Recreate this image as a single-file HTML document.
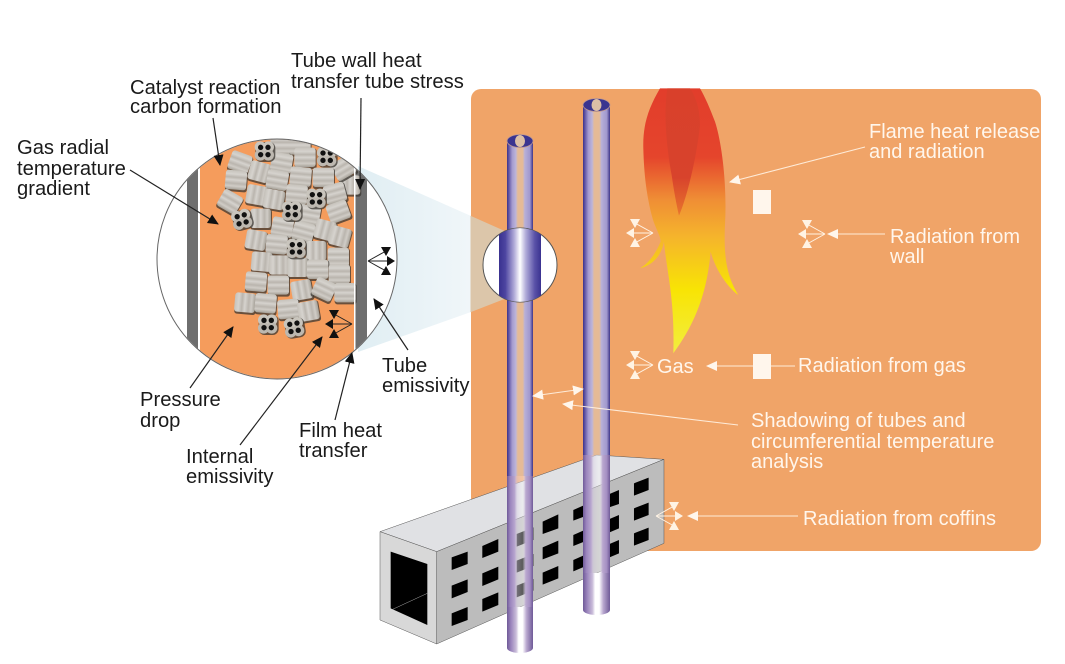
<!DOCTYPE html>
<html><head><meta charset="utf-8"><style>
html,body{margin:0;padding:0;background:#fff;width:1065px;height:664px;overflow:hidden}
svg{display:block}
text{font-family:"Liberation Sans",sans-serif;font-size:20.2px}
.b text{fill:#1a1a1a}
.w text{fill:#fff6ec;font-size:20px}
</style></head><body>
<svg width="1065" height="664" viewBox="0 0 1065 664" xmlns="http://www.w3.org/2000/svg">
<defs>
<clipPath id="cc"><circle cx="277" cy="259" r="119.5"/></clipPath>
<linearGradient id="cone" gradientUnits="userSpaceOnUse" x1="358" x2="507" y1="0" y2="0"><stop offset="0" stop-color="#e0eef3"/><stop offset=".75" stop-color="#f0f6f9"/><stop offset=".76" stop-color="#dcc6aa"/><stop offset="1" stop-color="#dcc6aa"/></linearGradient>
<linearGradient id="fl" x1="0" x2="0" y1="0" y2="1"><stop offset="0" stop-color="#e23d2b"/><stop offset=".26" stop-color="#e5452c"/><stop offset=".42" stop-color="#ef8e35"/><stop offset=".56" stop-color="#f5b42c"/><stop offset=".76" stop-color="#f8e404"/><stop offset="1" stop-color="#f2ee40"/></linearGradient>
<linearGradient id="fi" x1="0" x2="0" y1="0" y2="1"><stop offset="0" stop-color="#d9402b"/><stop offset=".7" stop-color="#d8432c"/><stop offset="1" stop-color="#e8762c"/></linearGradient>
<linearGradient id="tu" x1="0" x2="1" y1="0" y2="0"><stop offset="0" stop-color="#3d3488"/><stop offset=".06" stop-color="#5a4fa0"/><stop offset=".2" stop-color="#a49bcf"/><stop offset=".34" stop-color="#bcb4da"/><stop offset=".42" stop-color="#e0c4aa" stop-opacity=".7"/><stop offset=".6" stop-color="#e0c4aa" stop-opacity=".7"/><stop offset=".68" stop-color="#b8b0d8"/><stop offset=".88" stop-color="#a098ce"/><stop offset="1" stop-color="#3d3488"/></linearGradient>
<linearGradient id="tl" x1="0" x2="1" y1="0" y2="0"><stop offset="0" stop-color="#6f5a98"/><stop offset=".12" stop-color="#9a84bc"/><stop offset=".3" stop-color="#b8a6cf"/><stop offset=".4" stop-color="#e0d8ea" stop-opacity=".5"/><stop offset=".6" stop-color="#fff" stop-opacity=".35"/><stop offset=".72" stop-color="#bba9d0"/><stop offset=".88" stop-color="#a48ec2"/><stop offset="1" stop-color="#6f5a98"/></linearGradient>
<linearGradient id="tb" x1="0" x2="1" y1="0" y2="0"><stop offset="0" stop-color="#6f5a98"/><stop offset=".15" stop-color="#9a84bc"/><stop offset=".35" stop-color="#c9bcd9"/><stop offset=".45" stop-color="#fff"/><stop offset=".6" stop-color="#fff"/><stop offset=".75" stop-color="#b9a8cf"/><stop offset="1" stop-color="#6f5a98"/></linearGradient>
<linearGradient id="bu" x1="0" x2="1" y1="0" y2="0"><stop offset="0" stop-color="#3a3290"/><stop offset=".15" stop-color="#4c44a0"/><stop offset=".36" stop-color="#b0aad8"/><stop offset=".5" stop-color="#fff"/><stop offset=".64" stop-color="#b0aad8"/><stop offset=".85" stop-color="#5a52a8"/><stop offset="1" stop-color="#3a3290"/></linearGradient>
<linearGradient id="ph" x1="0" x2="0" y1="0" y2="1"><stop offset="0" stop-color="#c6c2bb"/><stop offset=".2" stop-color="#d6d3ce"/><stop offset=".36" stop-color="#bab5ae"/><stop offset=".5" stop-color="#d6d3ce"/><stop offset=".68" stop-color="#bab5ae"/><stop offset=".82" stop-color="#d0ccc6"/><stop offset="1" stop-color="#a5a097"/></linearGradient>
<linearGradient id="pv" x1="0" x2="1" y1="0" y2="0"><stop offset="0" stop-color="#c6c2bb"/><stop offset=".2" stop-color="#d6d3ce"/><stop offset=".36" stop-color="#bab5ae"/><stop offset=".5" stop-color="#d6d3ce"/><stop offset=".68" stop-color="#bab5ae"/><stop offset=".82" stop-color="#d0ccc6"/><stop offset="1" stop-color="#a5a097"/></linearGradient>
<g id="p"><rect x="-31" y="-27" width="66" height="62" rx="8" fill="#3a3530" opacity=".75"/><rect x="-32" y="-29" width="64" height="58" rx="9" fill="url(#ph)"/></g>
<g id="q"><rect x="-30" y="-27" width="64" height="62" rx="8" fill="#3a3530" opacity=".75"/><rect x="-31" y="-29" width="62" height="58" rx="9" fill="url(#pv)"/></g>
<g id="h"><rect x="-27" y="-27" width="60" height="60" rx="18" fill="#3a3530" opacity=".75"/><circle cx="-12" cy="-12" r="17" fill="#c9c5bd"/><circle cx="12" cy="-12" r="17" fill="#c9c5bd"/><circle cx="-12" cy="12" r="17" fill="#bdb8b0"/><circle cx="12" cy="12" r="17" fill="#bdb8b0"/><circle cx="-11" cy="-11" r="8" fill="#111"/><circle cx="11" cy="-11" r="8" fill="#111"/><circle cx="-11" cy="11" r="8" fill="#111"/><circle cx="11" cy="11" r="8" fill="#111"/></g>
<marker id="ab" markerWidth="12" markerHeight="10" refX="10" refY="5" orient="auto" markerUnits="userSpaceOnUse"><path d="M0 0L11 5L0 10z" fill="#111"/></marker>
<marker id="aw" markerWidth="12" markerHeight="12" refX="10" refY="6" orient="auto" markerUnits="userSpaceOnUse"><path d="M0 1L11 6L0 11z" fill="#fff6ec"/></marker>
<marker id="aw0" markerWidth="12" markerHeight="12" refX="1" refY="6" orient="auto" markerUnits="userSpaceOnUse"><path d="M11 1L0 6L11 11z" fill="#fff6ec"/></marker>
<g id="tri"><path d="M0 0L-18-10M0 0L-25 0M0 0L-18 10" stroke-width="1" fill="none"/><path d="M-23-14L-13-14L-18-5ZM-18 5L-23 14L-13 14ZM-27 0L-19-5L-19 5Z" stroke="none"/></g>
</defs>

<rect x="471" y="89" width="570" height="462" rx="10" fill="#f0a468"/>
<polygon points="358,166 471,216 507,232 507,298 471,312 358,352" fill="url(#cone)"/>

<!-- flame -->
<g transform="translate(470,85) scale(.3333)">
<path d="M570 10C535 70 518 120 520 190C522 270 530 330 545 390C555 430 572 450 572 470C555 510 535 535 510 550C550 540 575 510 582 470C590 560 615 640 610 805C665 730 710 640 722 500C735 550 770 605 805 630C775 580 760 530 765 420C772 300 755 170 735 110C720 70 705 35 690 10Z" fill="url(#fl)"/>
<path d="M592 10C580 90 590 190 605 270C612 320 620 360 627 392C650 340 680 220 690 120C690 70 675 30 660 10Z" fill="url(#fi)"/>
</g>

<!-- box -->
<g transform="translate(370,440) scale(.3333)" stroke="#555" stroke-width="1.5">
<polygon points="30,275 680,45 882,58 200,335" fill="#e0e1e4"/>
<polygon points="200,335 882,58 882,310 200,612" fill="#bcbcbc"/>
<polygon points="30,275 200,335 200,612 30,540" fill="#d8d8d8"/>
<polygon points="62,335 172,372 172,555 62,505" fill="#000" stroke="none"/>
<path d="M68 508L172 460" stroke="#aaa" fill="none"/>
<g fill="#000" stroke="none">
<polygon points="245,352 293,335 293,372 245,390"/><polygon points="245,437 293,418 293,456 245,475"/><polygon points="245,520 293,501 293,540 245,558"/>
<polygon points="337,318 385,297 385,335 337,354"/><polygon points="337,400 385,380 385,418 337,438"/><polygon points="337,477 385,457 385,495 337,515"/>
<polygon points="440,282 490,262 490,300 440,320"/><polygon points="440,362 490,342 490,378 440,398"/><polygon points="440,437 490,417 490,452 440,472"/>
<polygon points="518,245 565,223 565,265 518,282"/><polygon points="518,322 565,302 565,340 518,358"/><polygon points="518,398 565,378 565,415 518,434"/>
<polygon points="610,210 655,190 655,225 610,242"/><polygon points="610,285 655,265 655,300 610,318"/><polygon points="610,360 655,340 655,375 610,394"/>
<polygon points="700,170 747,150 747,192 700,208"/><polygon points="700,245 747,225 747,265 700,285"/><polygon points="700,320 747,300 747,340 700,360"/>
<polygon points="792,130 836,113 836,150 792,167"/><polygon points="792,205 836,188 836,225 792,242"/><polygon points="792,280 836,263 836,300 792,317"/>
</g>
</g>

<!-- tube 2 -->
<rect x="583" y="105" width="27" height="350" fill="url(#tu)"/>
<rect x="583" y="455" width="27" height="118" fill="url(#tl)"/>
<rect x="583" y="573" width="27" height="37" fill="url(#tb)"/>
<ellipse cx="596.5" cy="610" rx="13.5" ry="5" fill="url(#tb)"/>
<ellipse cx="596.500" cy="105" rx="13.5" ry="6.500" fill="#3a3490" stroke="#c09a90" stroke-width=".8"/>
<ellipse cx="596.500" cy="105" rx="5" ry="6" fill="#dcbfa6"/>

<!-- tube 1 -->
<rect x="507" y="141" width="26" height="335" fill="url(#tu)"/>
<rect x="507" y="476" width="26" height="131" fill="url(#tl)"/>
<rect x="507" y="607" width="26" height="41" fill="url(#tb)"/>
<ellipse cx="520" cy="648" rx="13" ry="5" fill="url(#tb)"/>
<ellipse cx="520" cy="141" rx="13" ry="6.500" fill="#3a3490" stroke="#c09a90" stroke-width=".8"/>
<ellipse cx="520" cy="141" rx="5" ry="6" fill="#dcbfa6"/>

<!-- bulge -->
<circle cx="520" cy="265" r="37" fill="#fff" stroke="#555" stroke-width="1"/>
<path d="M499 234.600A37 37 0 0 1 541 234.600V295.400A37 37 0 0 1 499 295.400Z" fill="url(#bu)"/>

<!-- big circle -->
<circle cx="277" cy="259" r="120" fill="#fff"/>
<g clip-path="url(#cc)">
<rect x="187" y="130" width="11" height="260" fill="#6e6e6e"/>
<rect x="200" y="130" width="154" height="260" fill="#f59c5c"/>
<rect x="355" y="130" width="12" height="260" fill="#6e6e6e"/>
<g transform="translate(150,130) scale(.3333)">
<use href="#p" transform="translate(393,45)"/><use href="#p" transform="translate(450,45)"/><use href="#q" transform="translate(600,165)"/>
<use href="#p" transform="translate(270,97) rotate(20)"/><use href="#p" transform="translate(258,150) rotate(5)"/><use href="#q" transform="translate(328,125) rotate(15)"/><use href="#p" transform="translate(395,98) rotate(10)"/><use href="#p" transform="translate(465,82)"/><use href="#p" transform="translate(580,115) rotate(-30)"/><use href="#p" transform="translate(520,142)"/><use href="#p" transform="translate(452,140) rotate(5)"/><use href="#p" transform="translate(382,150) rotate(10)"/><use href="#q" transform="translate(320,195) rotate(10)"/><use href="#q" transform="translate(372,208) rotate(10)"/><use href="#p" transform="translate(440,193) rotate(5)"/><use href="#p" transform="translate(240,215) rotate(30)"/><use href="#p" transform="translate(555,190) rotate(-15)"/><use href="#p" transform="translate(565,245) rotate(-20)"/><use href="#q" transform="translate(332,265)"/><use href="#p" transform="translate(478,255) rotate(10)"/><use href="#p" transform="translate(397,292) rotate(10)"/><use href="#p" transform="translate(460,305) rotate(15)"/><use href="#q" transform="translate(525,300) rotate(15)"/><use href="#q" transform="translate(570,320) rotate(15)"/><use href="#q" transform="translate(318,330) rotate(10)"/><use href="#p" transform="translate(380,343) rotate(5)"/><use href="#q" transform="translate(498,362)"/><use href="#p" transform="translate(565,382)"/><use href="#q" transform="translate(335,395) rotate(5)"/><use href="#q" transform="translate(388,405)"/><use href="#q" transform="translate(443,412)"/><use href="#p" transform="translate(503,418)"/><use href="#p" transform="translate(568,432)"/><use href="#p" transform="translate(318,455) rotate(5)"/><use href="#p" transform="translate(385,465)"/><use href="#q" transform="translate(455,480) rotate(-10)"/><use href="#p" transform="translate(522,478) rotate(25)"/><use href="#p" transform="translate(585,488)"/><use href="#q" transform="translate(285,518) rotate(5)"/><use href="#p" transform="translate(347,520) rotate(5)"/><use href="#p" transform="translate(415,537) rotate(-5)"/><use href="#q" transform="translate(475,543) rotate(-10)"/>
<use href="#h" transform="translate(343,63)"/><use href="#h" transform="translate(530,80)"/><use href="#h" transform="translate(498,205)"/><use href="#h" transform="translate(425,243)"/><use href="#h" transform="translate(275,268) rotate(-15)"/><use href="#h" transform="translate(438,355)"/><use href="#h" transform="translate(353,582)"/><use href="#h" transform="translate(432,592) rotate(-10)"/>
</g>
<rect x="198" y="130" width="2" height="260" fill="#fff"/>
<rect x="354" y="130" width="1.500" height="260" fill="#fff"/>
</g>
<circle cx="277" cy="259" r="120" fill="none" stroke="#666" stroke-width="1"/>

<!-- black arrows -->
<g stroke="#222" stroke-width="1.200" fill="none">
<path d="M213 118L220 165" marker-end="url(#ab)"/>
<path d="M361 98L360 189" marker-end="url(#ab)"/>
<path d="M130 170L218 224" marker-end="url(#ab)"/>
<path d="M190 388L233 327" marker-end="url(#ab)"/>
<path d="M240 445L322 337" marker-end="url(#ab)"/>
<path d="M335 420L352 353" marker-end="url(#ab)"/>
<path d="M408 350L374 299" marker-end="url(#ab)"/>
</g>
<use href="#tri" transform="translate(368,261) scale(-1,1)" fill="#111" stroke="#222"/>
<use href="#tri" transform="translate(352,324)" fill="#111" stroke="#222"/>

<!-- white arrows -->
<g stroke="#fff3e4" stroke-width="1.100" fill="none" stroke-opacity=".9">
<path d="M865 147L730 182" marker-end="url(#aw)"/>
<path d="M885 234L828 234" marker-end="url(#aw)"/>
<path d="M795 366L707 366" marker-end="url(#aw)"/>
<path d="M533 396L583 389" marker-start="url(#aw0)" marker-end="url(#aw)"/>
<path d="M738 425L563 404" marker-end="url(#aw)"/>
<path d="M798 516L688 516" marker-end="url(#aw)"/>
</g>
<rect x="753" y="190" width="18" height="24" fill="#fff6ec"/>
<rect x="753" y="354" width="18" height="25" fill="#fff6ec"/>
<use href="#tri" transform="translate(653,233)" fill="#fff3e4" stroke="#fff3e4"/>
<use href="#tri" transform="translate(653,365)" fill="#fff3e4" stroke="#fff3e4"/>
<use href="#tri" transform="translate(825,234)" fill="#fff3e4" stroke="#fff3e4"/>
<use href="#tri" transform="translate(656,516) scale(-1,1)" fill="#fff3e4" stroke="#fff3e4"/>

<!-- black text -->
<g class="b">
<text x="291" y="67">Tube wall heat</text>
<text x="291" y="88">transfer tube stress</text>
<text x="130" y="94">Catalyst reaction</text>
<text x="130" y="113">carbon formation</text>
<text x="17" y="154">Gas radial</text>
<text x="17" y="175">temperature</text>
<text x="17" y="195">gradient</text>
<text x="140" y="406">Pressure</text>
<text x="140" y="427">drop</text>
<text x="186" y="463">Internal</text>
<text x="186" y="483">emissivity</text>
<text x="299" y="437">Film heat</text>
<text x="299" y="457">transfer</text>
<text x="382" y="372">Tube</text>
<text x="382" y="392">emissivity</text>
</g>
<!-- white text -->
<g class="w">
<text x="869" y="138">Flame heat release</text>
<text x="869" y="158">and radiation</text>
<text x="890" y="243">Radiation from</text>
<text x="890" y="263">wall</text>
<text x="657" y="373">Gas</text>
<text x="798" y="372">Radiation from gas</text>
<text x="751" y="427">Shadowing of tubes and</text>
<text x="751" y="448">circumferential temperature</text>
<text x="751" y="468">analysis</text>
<text x="803" y="525">Radiation from coffins</text>
</g>
</svg>
</body></html>
